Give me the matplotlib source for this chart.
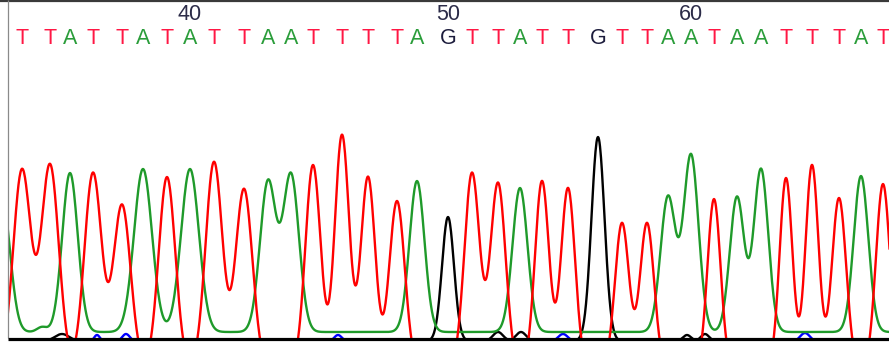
import numpy as np
import matplotlib
matplotlib.use("Agg")
import matplotlib.pyplot as plt

# ---------------- data ----------------
bases = list("TTATTATATTAATTTTAGTTATTGTTAATAATTTAT")
call_pos = [22, 50, 70, 93, 122, 143, 167, 190, 214, 244, 268, 291, 313, 342,
            368, 397, 417, 448, 472, 498, 520, 542, 568, 598, 622, 647, 668,
            691, 714, 737, 761, 786, 812, 839, 861, 883]
first_base_number = 33
# primary peak height (signal above the trace floor) for each called base
peak_height = [168, 173, 165, 165, 133, 169, 161, 169, 176, 149, 156, 163,
               173, 203, 161, 137, 157, 121, 165, 155, 150, 157, 150, 201,
               115, 115, 141, 183, 139, 141, 169, 160, 173, 140, 162, 154]
peak_width = [8.8, 8.8, 7.8, 8.6, 8.6, 9.0, 8.3, 9.0, 8.4, 8.4, 8.0, 8.0,
              7.6, 7.2, 7.2, 7.7, 7.5, 6.0, 7.6, 7.6, 7.5, 7.0, 7.0, 6.5,
              7.0, 7.0, 7.5, 7.5, 6.5, 7.2, 7.2, 6.4, 6.5, 7.1, 7.3, 7.0]
# minor (uncalled) peaks per channel: (position, height, width)
minor_A = [(2, 140, 8.0), (42, 11, 5.0)]
minor_G = [(62, 4, 7.0), (498, 6, 5.0), (521, 6, 5.0), (687, 3, 4.0), (705, 4, 4.0)]
minor_C = [(97, 3, 3.0), (126, 4, 4.0), (338, 3, 4.0), (563, 4, 5.0), (805, 5, 5.0)]
minor_T = []
channel_floor = {"A": 6, "C": -4, "G": -3, "T": -30}

trace_colors = {"A": "#1f9a2a", "C": "#0000ff", "G": "#000000", "T": "#ff0000"}
text_colors = {"A": "#2a9d3a", "C": "#1a3aff", "G": "#1c1c3c", "T": "#ff1744"}
label_color = "#2b2b48"

# ---------------- figure ----------------
W, H = 889, 342
fig = plt.figure(figsize=(W / 100, H / 100), dpi=100)

# trace axes: x in scan units, y in signal units (0 = bottom frame)
x0, ybot, ytop = 8, 338, 50
ax = fig.add_axes([x0 / W, (H - ybot) / H, (W - x0) / W, (ybot - ytop) / H])
ax.set_xlim(x0, W)
ax.set_ylim(0, ybot - ytop)
ax.axis("off")

scan = np.arange(x0 - 2, W + 2, 0.5)
peaks = {ch: [] for ch in "ACGT"}
for b, p, h, w in zip(bases, call_pos, peak_height, peak_width):
    peaks[b].append((p, h, w))
peaks["A"] += minor_A
peaks["G"] += minor_G
peaks["C"] += minor_C
peaks["T"] += minor_T

for ch in ["C", "G", "A", "T"]:
    fl = channel_floor[ch]
    sig = np.full_like(scan, float(fl))
    for p, h, w in peaks[ch]:
        sig += (h - fl) * np.exp(-0.5 * ((scan - p) / w) ** 2)
    ax.plot(scan, sig, color=trace_colors[ch], lw=1.7, solid_joinstyle="round")

# overlay axes in pixel coords for text and frame
ov = fig.add_axes([0, 0, 1, 1])
ov.set_xlim(0, W)
ov.set_ylim(H, 0)
ov.axis("off")

font = ["Liberation Sans", "DejaVu Sans"]
for i, (b, p) in enumerate(zip(bases, call_pos)):
    ov.text(p, 38, b, color=text_colors[b], fontsize=15.5, ha="center",
            va="center", family=font)
    num = first_base_number + i
    if num % 10 == 0:
        ov.text(p, 15, str(num), color=label_color, fontsize=15.5,
                ha="center", va="center", family=font)

# frame lines
ov.plot([0, W], [1, 1], color="#3a3a3a", lw=1.6, solid_capstyle="butt")
ov.plot([8, 8], [0, 338], color="#8a8a8a", lw=0.9, solid_capstyle="butt")
ov.plot([8, W], [338.5, 338.5], color="#000000", lw=2.3, solid_capstyle="butt")

fig.savefig("out.png", dpi=100)
